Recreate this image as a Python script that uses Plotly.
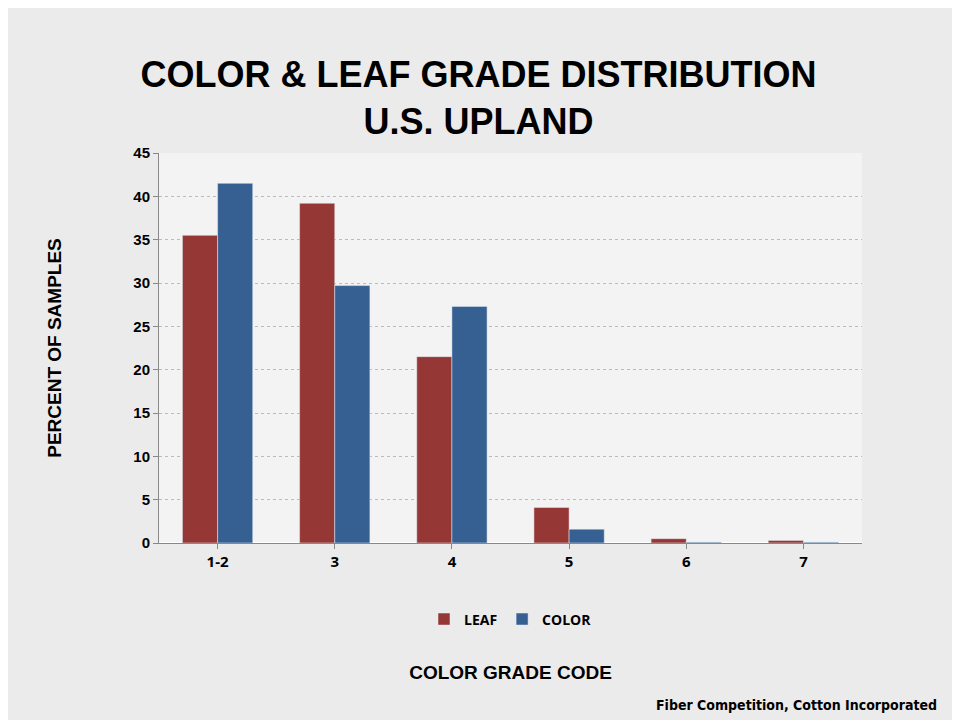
import plotly.graph_objects as go

categories = ["1-2", "3", "4", "5", "6", "7"]
leaf = [35.5, 39.2, 21.5, 4.1, 0.5, 0.3]
color = [41.5, 29.7, 27.3, 1.6, 0.1, 0.1]

fig = go.Figure()
fig.add_trace(go.Bar(x=categories, y=leaf, name="LEAF",
                     marker=dict(color="#953735")))
fig.add_trace(go.Bar(x=categories, y=color, name="COLOR",
                     marker=dict(color="#376092")))

fig.update_layout(
    width=960, height=720,
    margin=dict(l=151, r=106, t=145, b=185, autoexpand=False),
    paper_bgcolor="#ebebeb",
    plot_bgcolor="#f3f3f3",
    bargap=0.4, bargroupgap=0,
    font=dict(family="Liberation Sans, Arial", color="black"),
    title=dict(text="<b>COLOR & LEAF GRADE DISTRIBUTION<br>U.S. UPLAND</b>",
               x=0.49, xanchor="center", y=0.89, yanchor="top",
               font=dict(size=36)),
    xaxis=dict(showline=True, linecolor="#888", ticks="outside",
               tickcolor="#888", ticklen=5, automargin=False,
               tickfont=dict(size=15, family="Open Sans", weight="bold"),
               title=dict(text="<b>COLOR GRADE CODE</b>",
                          font=dict(size=19), standoff=95)),
    yaxis=dict(range=[0, 45], dtick=5, showline=True, linecolor="#888",
               ticks="outside", tickcolor="#888", ticklen=5, automargin=False,
               gridcolor="#bbb", griddash="dot",
               tickfont=dict(size=15, family="Liberation Sans", weight="bold"),
               title=dict(text="<b>PERCENT OF SAMPLES</b>",
                          font=dict(size=19), standoff=66)),
    legend=dict(orientation="h", x=0.5, xanchor="center", y=-0.155,
                yanchor="top", font=dict(size=14, family="Open Sans", weight="bold")),
)
fig.add_annotation(text="<b>Fiber Competition, Cotton Incorporated</b>",
                   xref="paper", yref="paper", x=1.11, y=-0.44,
                   xanchor="right", yanchor="bottom", showarrow=False,
                   font=dict(size=14, family="DejaVu Sans Condensed, Liberation Sans"))

fig.write_html("out.html")
